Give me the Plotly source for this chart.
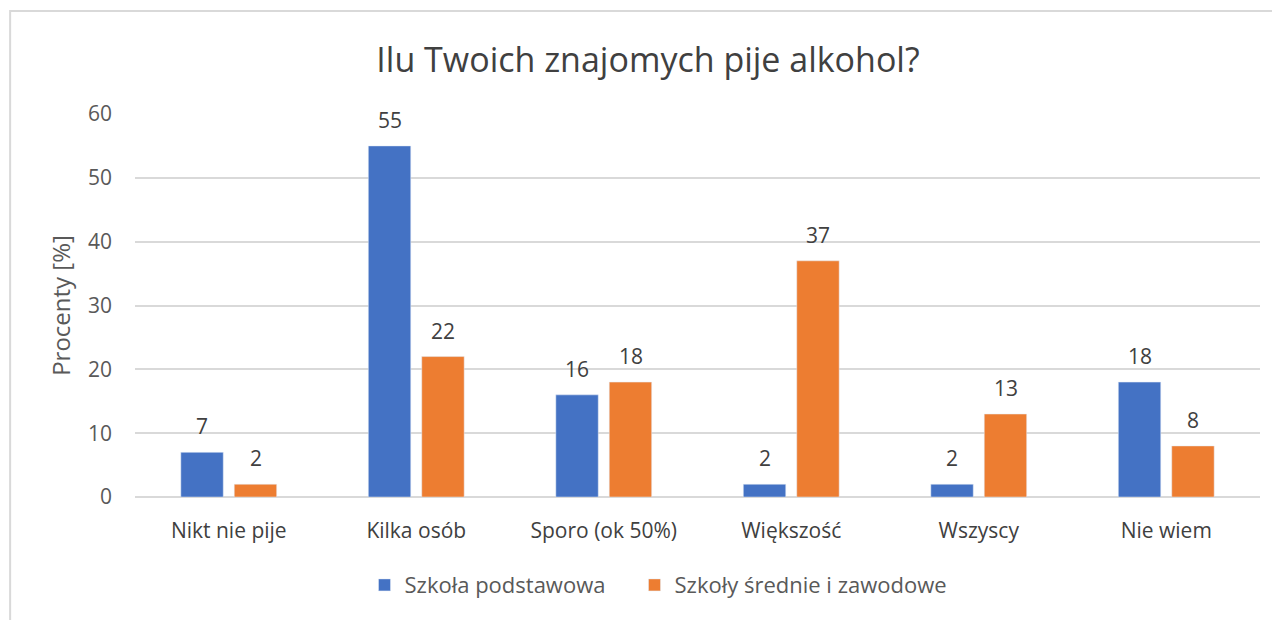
import plotly.graph_objects as go

categories = ["Nikt nie pije", "Kilka osób", "Sporo (ok 50%)", "Większość", "Wszyscy", "Nie wiem"]
podstawowa = [7, 55, 16, 2, 2, 18]
srednie = [2, 22, 18, 37, 13, 8]
series_names = ["Szkoła podstawowa", "Szkoły średnie i zawodowe"]
y_ticks = [0, 10, 20, 30, 40, 50, 60]

FONT = "Open Sans"
fig = go.Figure()
fig.add_trace(go.Bar(x=categories, y=podstawowa, name=series_names[0], marker_color="#4472C4",
                     legend="legend"))
fig.add_trace(go.Bar(x=categories, y=srednie, name=series_names[1], marker_color="#ED7D31",
                     legend="legend2"))

# data labels above bars, offset to each bar of the group
for series, shift in ((podstawowa, -26.75), (srednie, 26.75)):
    for cat, val in zip(categories, series):
        fig.add_annotation(x=cat, y=val, xref="x", yref="y", text=str(val), showarrow=False,
                           xshift=shift, yshift=26, yanchor="middle",
                           font=dict(size=21, color="#404040", family=FONT))

legend_common = dict(orientation="h", y=-0.23, yanchor="middle", xanchor="left",
                     font=dict(size=22, color="#595959"), itemwidth=30)

fig.update_layout(
    width=1280, height=620,
    paper_bgcolor="white", plot_bgcolor="white",
    margin=dict(l=127, r=28, t=106, b=131),
    font=dict(family=FONT, color="#595959"),
    title=dict(text="Ilu Twoich znajomych pije alkohol?", x=0.5, xanchor="center",
               y=0.916, yanchor="middle", font=dict(size=34, color="#404040", family=FONT)),
    barmode="group", bargap=0.43, bargroupgap=0.206,
    showlegend=True,
    legend=dict(x=0.204, **legend_common),
    legend2=dict(x=0.444, **legend_common),
)
fig.update_yaxes(range=[0, 60], tickvals=y_ticks, showgrid=True, gridcolor="#d9d9d9", gridwidth=2,
                 zeroline=True, zerolinecolor="#d9d9d9", zerolinewidth=2,
                 tickfont=dict(size=21, color="#595959"), ticks="", ticklabelstandoff=22,
                 title=dict(text="Procenty [%]", font=dict(size=24, color="#595959"), standoff=10))
fig.update_xaxes(tickfont=dict(size=21, color="#404040"), showline=False, ticks="",
                 ticklabelstandoff=19)

fig.add_shape(type="rect", xref="paper", yref="paper", x0=-0.111, x1=1.2, y0=-0.5, y1=1.269,
              line=dict(color="#d9d9d9", width=2), fillcolor="rgba(0,0,0,0)", layer="below")

fig.write_html("out.html")
